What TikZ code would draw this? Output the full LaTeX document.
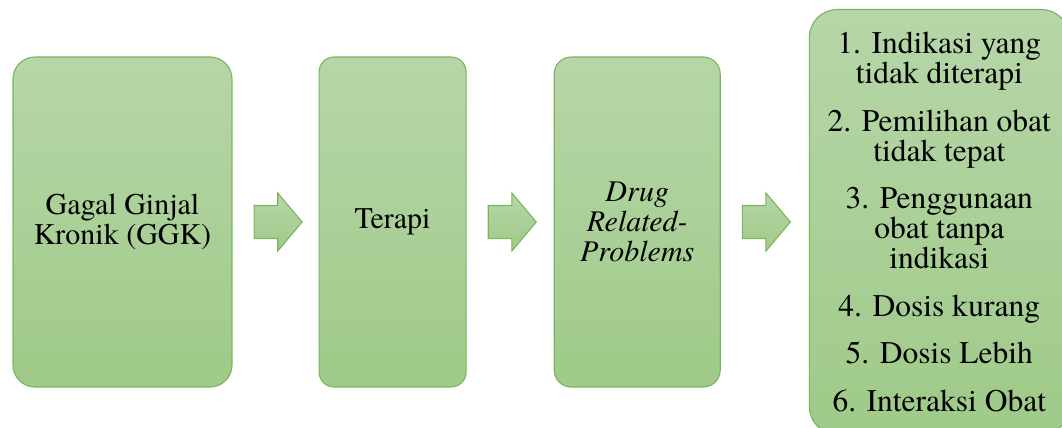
\documentclass[tikz,border=0pt]{standalone}
\usepackage{fontspec}
\setmainfont{texgyretermes}[Extension=.otf, UprightFont=*-regular, ItalicFont=*-italic, BoldFont=*-bold]
\usetikzlibrary{positioning, shapes.arrows}
\definecolor{gtop}{HTML}{B6D6A8}
\definecolor{gbot}{HTML}{9FCA88}
\definecolor{gline}{HTML}{7AB55C}
\tikzset{
  every picture/.style={line width=1.1pt},
  stagebox/.style={draw=gline, top color=gtop, bottom color=gbot, rounded corners=#1, align=center, inner sep=4pt, minimum height=330pt, font=\fontsize{30}{30}\selectfont},
  stagebox/.default=20pt,
  flowarrow/.style={single arrow, draw=gline, top color=gtop, bottom color=gbot, minimum height=48pt, single arrow head extend=12.5pt, single arrow tip angle=100, inner xsep=0pt, inner ysep=16pt},
}

\begin{document}
\begin{tikzpicture}[x=1pt, y=-1pt]
  \useasboundingbox (0,0) rectangle (1062,428);
  % stages of the flow
  \node[stagebox=22pt, minimum width=219pt] (ggk) at (122.5,222) {Gagal Ginjal\\Kronik (GGK)};
  \node[stagebox=15pt, minimum width=147pt, right=86pt of ggk] (terapi) {Terapi};
  \node[stagebox=17pt, minimum width=166pt, right=87pt of terapi] (drp) {\itshape Drug\\\itshape Related-\\\itshape Problems};
  \node[stagebox=28pt, minimum width=260pt, minimum height=425pt, right=88pt of drp, font=\fontsize{31.5}{30}\selectfont] (jenis)
    {1. Indikasi yang\\tidak diterapi\\[17.5pt]
     2. Pemilihan obat\\tidak tepat\\[17.5pt]
     3. Penggunaan\\obat tanpa\\indikasi\\[17.5pt]
     4. Dosis kurang\\[17.5pt]
     5. Dosis Lebih\\[17.5pt]
     6. Interaksi Obat};
  % block arrows between the stages
  \node[flowarrow, right=21pt of ggk] (a1) {};
  \node[flowarrow, right=21pt of terapi] (a2) {};
  \node[flowarrow, right=21pt of drp] (a3) {};
\end{tikzpicture}
\end{document}
